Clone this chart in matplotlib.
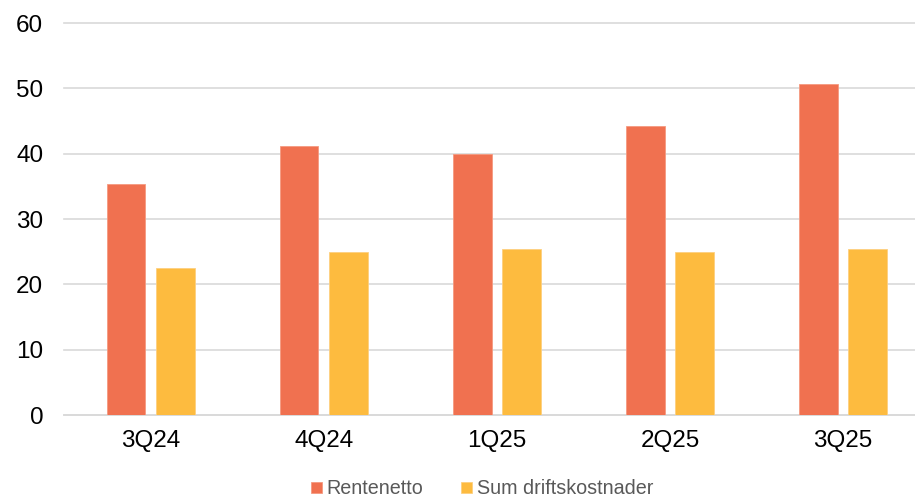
import matplotlib
matplotlib.use("Agg")
import matplotlib.pyplot as plt
import numpy as np

categories = ["3Q24", "4Q24", "1Q25", "2Q25", "3Q25"]
rentenetto = [35.4, 41.1, 40.0, 44.3, 50.7]
driftskostnader = [22.5, 24.9, 25.4, 25.0, 25.4]
series_names = ["Rentenetto", "Sum driftskostnader"]
yticks = [0, 10, 20, 30, 40, 50, 60]

plt.rcParams['font.family'] = ['Liberation Sans', 'DejaVu Sans']

W, H = 915, 499
fig = plt.figure(figsize=(W / 100, H / 100), dpi=100)
left, right = 64, 929.7
bottom, top = 415, 23
ax = fig.add_axes([left / W, 1 - bottom / H, (right - left) / W, (bottom - top) / H])

x = np.arange(len(categories))
bw = 0.2236
off = 0.1425
c1 = "#F07150"
c2 = "#FDBB3F"
ax.bar(x - off, rentenetto, bw, color=c1, edgecolor="#F59A80", linewidth=0.6, label=series_names[0], zorder=3)
ax.bar(x + off, driftskostnader, bw, color=c2, edgecolor="#FDD080", linewidth=0.6, label=series_names[1], zorder=3)

ax.set_xlim(-0.5, len(categories) - 0.5)
ax.set_ylim(0, 60)
ax.set_yticks(yticks)
ax.set_xticks(x)
ax.set_xticklabels(categories)
ax.yaxis.grid(True, color="#D9D9D9", linewidth=1.2, zorder=0)
ax.set_axisbelow(True)
for s in ["top", "right", "left"]:
    ax.spines[s].set_visible(False)
ax.spines["bottom"].set_color("#D9D9D9")
ax.spines["bottom"].set_linewidth(1.2)
ax.tick_params(axis="both", length=0, labelsize=17.5, colors="black")
ax.tick_params(axis="y", pad=15)
ax.tick_params(axis="x", pad=11)
for gl in ax.get_ygridlines():
    gl.set_clip_on(False)

leg = fig.legend(loc="center", bbox_to_anchor=(482 / W, 1 - 489 / H), ncol=2, frameon=False,
                 fontsize=14.2, handlelength=0.55, handleheight=0.55, handletextpad=0.25,
                 columnspacing=1.9, labelcolor="#595959")

fig.savefig("out.png", dpi=100)
